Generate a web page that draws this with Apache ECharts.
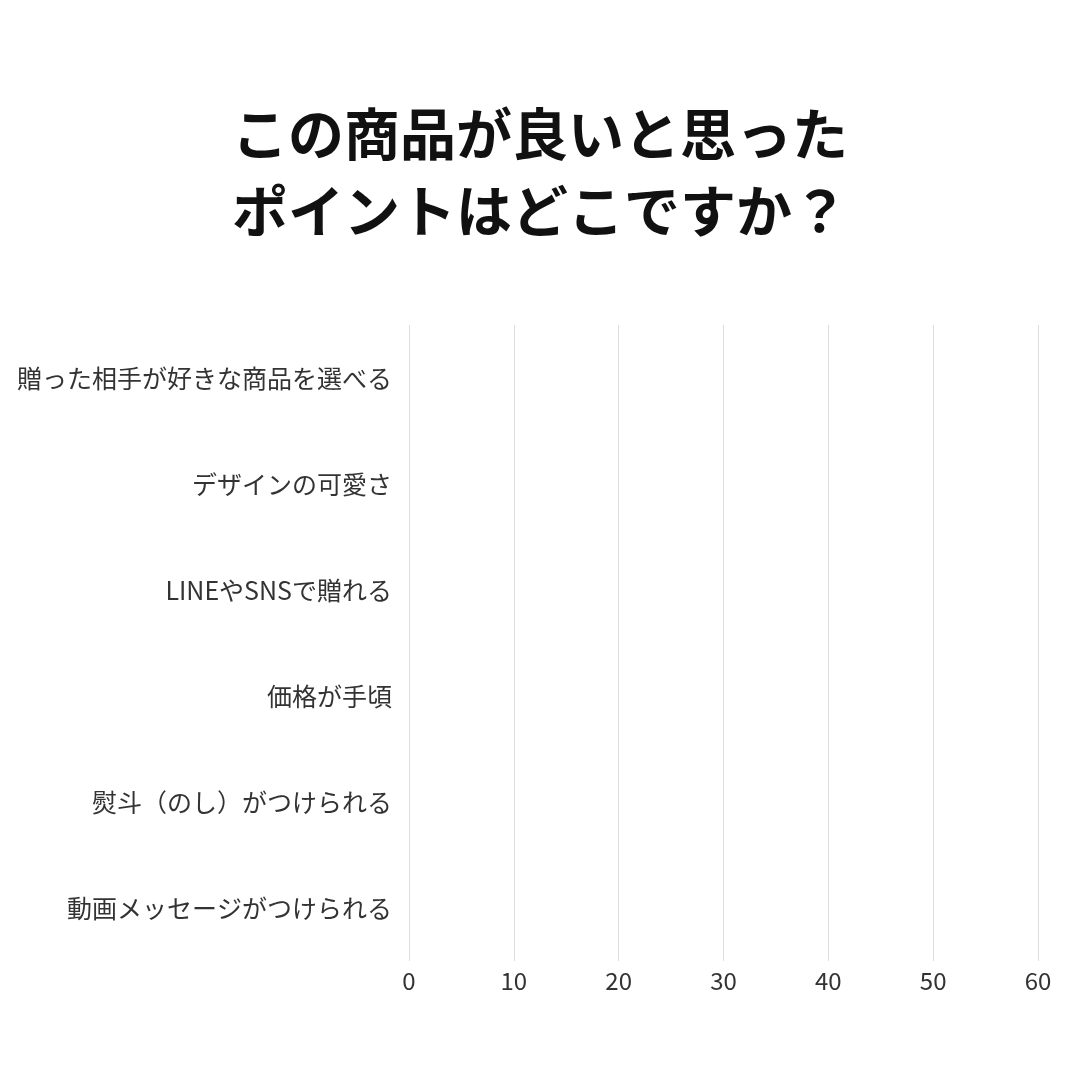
<!DOCTYPE html>
<html>
<head>
<meta charset="utf-8">
<script src="https://cdn.jsdelivr.net/npm/echarts@6/dist/echarts.min.js"></script>
<style>
	html, body { margin: 0; padding: 0; background: #fff; }
	#chart { width: 1080px; height: 1080px; }
</style>
</head>
<body>
<div id="chart"></div>
<script>
// 質問タイトル
var titleText = 'この商品が良いと思った\nポイントはどこですか？';

// 選択肢（上から順）
var categories = [
	'贈った相手が好きな商品を選べる',
	'デザインの可愛さ',
	'LINEやSNSで贈れる',
	'価格が手頃',
	'熨斗（のし）がつけられる',
	'動画メッセージがつけられる'
];

// 回答数 — 参照画像ではバーが描かれていない（長さ0）
var values = [0, 0, 0, 0, 0, 0];

// 横軸の目盛り
var axisMin = 0;
var axisMax = 60;
var axisStep = 10;

var chart = echarts.init(document.getElementById('chart'));

var option = {
	backgroundColor: '#ffffff',
	animation: false,
	textStyle: {
		fontFamily: '"Noto Sans CJK JP", "Noto Sans", sans-serif'
	},
	title: {
		text: titleText,
		left: 'center',
		top: 90,
		textStyle: {
			fontFamily: '"Noto Sans CJK JP", sans-serif',
			fontSize: 56,
			fontWeight: 'bold',
			lineHeight: 77,
			color: '#111111'
		}
	},
	grid: {
		left: 409,
		right: 42,
		top: 325,
		bottom: 119,
		containLabel: false
	},
	xAxis: {
		type: 'value',
		min: axisMin,
		max: axisMax,
		interval: axisStep,
		axisLine: { show: false },
		axisTick: { show: false },
		axisLabel: {
			color: '#333333',
			fontSize: 24,
			margin: 8
		},
		splitLine: {
			show: true,
			lineStyle: { color: '#dddddd', width: 1 }
		}
	},
	yAxis: {
		type: 'category',
		inverse: true,
		data: categories,
		axisLine: { show: false },
		axisTick: { show: false },
		axisLabel: {
			color: '#333333',
			fontSize: 25,
			margin: 17
		}
	},
	series: [
		{
			name: '回答数',
			type: 'bar',
			barWidth: 60,
			itemStyle: { color: '#5b8fd6' },
			data: values
		}
	]
};

chart.setOption(option);
</script>
</body>
</html>
